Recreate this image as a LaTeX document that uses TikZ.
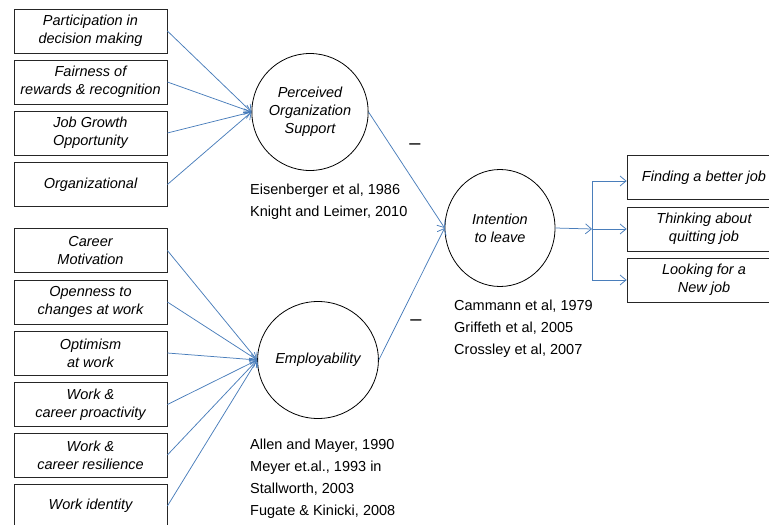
\documentclass[tikz,border=0pt]{standalone}
\usepackage{fontspec}
\setmainfont{Liberation Sans}
\usetikzlibrary{arrows.meta,shapes.geometric}
\definecolor{arrowblue}{RGB}{74,126,187}
\begin{document}
\begin{tikzpicture}[x=1pt,y=-1pt,
  box/.style={draw=black!85, line width=0.8pt, minimum width=153pt, minimum height=44pt,
    align=center, inner sep=0pt, font=\fontsize{14.5}{18}\selectfont\itshape},
  rbox/.style={box, minimum width=154pt},
  circ/.style={draw=black, line width=0.8pt, ellipse, minimum width=110pt, minimum height=117pt,
    inner sep=0pt, align=center, font=\fontsize{14.5}{18}\selectfont\itshape},
  cite/.style={anchor=base west, inner sep=0pt, font=\fontsize{14.5}{18}\selectfont},
  arr/.style={draw=arrowblue, line width=0.75pt, -{Straight Barb[length=6pt,width=10pt]}},
  bline/.style={draw=arrowblue, line width=0.75pt},
  minus/.style={inner sep=0pt, font=\fontsize{20}{20}\selectfont}]
\useasboundingbox (0,0) rectangle (769,525);
% left boxes, top group
\node[box] (b1) at (90.5,31) {Participation in\\decision making};
\node[box] (b2) at (90.5,82) {Fairness of\\rewards \& recognition};
\node[box] (b3) at (90.5,133) {Job Growth\\Opportunity};
\node[box] (b4) at (90.5,184.5) {Organizational};
% left boxes, bottom group
\node[box] (b5) at (90.5,250.5) {Career\\Motivation};
\node[box] (b6) at (90.5,302) {Openness to\\changes at work};
\node[box] (b7) at (90.5,353) {Optimism\\at work};
\node[box] (b8) at (90.5,404.5) {Work \&\\career proactivity};
\node[box] (b9) at (90.5,455) {Work \&\\career resilience};
\node[box] (b10) at (90.5,506) {Work identity};
% circles
\node[circ] (pos) at (310,112) {Perceived\\Organization\\Support};
\node[circ] (emp) at (318,360) {Employability};
\node[circ] (itl) at (500,228) {Intention\\to leave};
% right boxes
\node[rbox] (o1) at (704,177.5) {Finding a better job};
\node[rbox] (o2) at (704,229) {Thinking about\\quitting job};
\node[rbox] (o3) at (704,280) {Looking for a\\New job};
% citations
\node[cite] (c1) at (250,194) {Eisenberger et al, 1986};
\node[cite] (c2) at (250,216) {Knight and Leimer, 2010};
\node[cite] (c3) at (250,449) {Allen and Mayer, 1990};
\node[cite] (c4) at (250,471) {Meyer et.al., 1993 in};
\node[cite] (c5) at (250,493) {Stallworth, 2003};
\node[cite] (c6) at (250,515) {Fugate \& Kinicki, 2008};
\node[cite] (c7) at (454,310) {Cammann et al, 1979};
\node[cite] (c8) at (454,332) {Griffeth et al, 2005};
\node[cite] (c9) at (454,354) {Crossley et al, 2007};
% minus signs
\node[minus] (m1) at (415,147) {–};
\node[minus] (m2) at (416,323) {–};
% arrows into POS
\foreach \b in {b1,b2,b3,b4} \draw[arr] (\b.east) -- (pos.west);
% arrows into Employability
\foreach \b in {b5,b6,b7,b8,b9,b10} \draw[arr] (\b.east) -- (emp.west);
% to intention
\draw[arr] (pos.east) -- (itl.west);
\draw[arr] (emp.east) -- (itl.west);
% branching
\coordinate (br) at (592,229);
\coordinate (bt) at (592,181);
\coordinate (bb) at (592,280);
\draw[arr] (itl.east) -- (br);
\draw[bline] (bt) -- (bb);
\draw[arr] (bt) -- (o1.west |- bt);
\draw[arr] (br) -- (o2.west);
\draw[arr] (bb) -- (o3.west);
\end{tikzpicture}
\end{document}
